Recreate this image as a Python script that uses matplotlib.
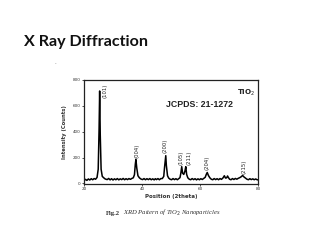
import matplotlib
matplotlib.use("Agg")
import matplotlib.pyplot as plt

# XRD pattern (2theta in degrees, intensity in counts)
two_theta = [20.0, 20.5, 21.0, 21.5, 22.0, 22.5, 23.0, 23.5, 24.0, 24.5,
             24.9, 25.2, 25.4, 25.6, 25.9, 26.3, 26.8, 27.3, 28.0, 28.5,
             29.0, 29.5, 30.0, 30.5, 31.0, 31.5, 32.0, 32.5, 33.0, 33.5,
             34.0, 34.5, 35.0, 35.5, 36.0, 36.5, 37.0, 37.4, 37.7, 37.9,
             38.2, 38.6, 39.1, 39.6, 40.2, 40.7, 41.2, 41.7, 42.2, 42.7,
             43.2, 43.7, 44.2, 44.6, 45.0, 45.5, 46.0, 46.5, 47.0, 47.5,
             47.8, 48.2, 48.4, 48.8, 49.2, 49.7, 50.2, 50.7, 51.2, 51.7,
             52.2, 52.7, 53.1, 53.4, 53.7, 54.0, 54.4, 54.8, 55.1, 55.4,
             55.8, 56.3, 56.8, 57.3, 57.8, 58.3, 58.8, 59.3, 59.8, 60.3,
             60.8, 61.3, 61.8, 62.2, 62.5, 62.9, 63.4, 63.9, 64.4, 64.9,
             65.4, 65.9, 66.4, 66.9, 67.4, 67.9, 68.4, 68.8, 69.2, 69.5,
             69.8, 70.2, 70.7, 71.2, 71.7, 72.2, 72.7, 73.2, 73.7, 74.2,
             74.7, 75.2, 75.7, 76.2, 76.7, 77.2, 77.7, 78.2, 78.7, 79.2,
             79.7, 80.0]
counts = [22, 32, 24, 35, 27, 37, 29, 38, 33, 47,
          110, 420, 715, 380, 110, 55, 44, 35, 30, 39,
          28, 37, 27, 36, 29, 38, 28, 36, 30, 39,
          29, 37, 30, 38, 32, 39, 44, 68, 150, 185,
          120, 60, 44, 35, 30, 38, 29, 37, 30, 38,
          29, 36, 28, 37, 30, 38, 29, 38, 38, 55,
          130, 215, 140, 60, 42, 33, 29, 38, 30, 37,
          29, 38, 45, 80, 130, 80, 70, 95, 130, 70,
          44, 33, 29, 38, 30, 37, 28, 36, 29, 37,
          31, 39, 48, 72, 85, 62, 44, 33, 29, 38,
          30, 37, 29, 38, 32, 42, 60, 42, 44, 58,
          46, 33, 29, 38, 31, 39, 33, 40, 45, 52,
          62, 50, 42, 33, 29, 37, 30, 36, 29, 35,
          29, 28]

# peak labels: text, 2theta, counts at bottom of text
hkl = ["(101)", "(004)", "(200)", "(105)", "(211)", "(204)", "(215)"]
hkl_x = [27.1, 38.2, 48.0, 53.4, 56.2, 62.4, 75.3]
hkl_y = [660, 200, 238, 146, 146, 108, 72]

x_ticks = [20, 40, 60, 80]
y_ticks = [0, 200, 400, 600, 800]

fig = plt.figure(figsize=(3.2, 2.4), dpi=100)
fig.patch.set_facecolor("white")

fig.text(0.076, 0.825, "X Ray Diffraction", fontsize=11.6, fontweight="bold",
         family="Lato", color="#111111", va="center", ha="left")
fig.text(0.17, 0.735, ".", fontsize=4, color="#555555")

ax = fig.add_axes([0.2625, 0.2333, 0.5437, 0.4334])
ax.plot(two_theta, counts, color="black", lw=1.1)
ax.set_xlim(20, 80)
ax.set_ylim(-4, 800)
ax.set_xticks(x_ticks)
ax.set_yticks(y_ticks)
ax.tick_params(labelsize=3, length=1.5, width=0.6, pad=1, colors="#333333")
for s in ax.spines.values():
    s.set_linewidth(0.9)
    s.set_color("#222222")

for t, xx, yy in zip(hkl, hkl_x, hkl_y):
    ax.text(xx, yy, t, rotation=90, fontsize=3.8, ha="center", va="bottom",
            family="DejaVu Sans", color="#222222")

ax.text(0.93, 0.88, "TiO$_2$", transform=ax.transAxes, fontsize=5.2,
        fontweight="bold", ha="center", va="center", color="#222222")
ax.text(0.665, 0.76, "JCPDS: 21-1272", transform=ax.transAxes, fontsize=6.3,
        fontweight="bold", ha="center", va="center", family="Liberation Sans",
        color="#222222")

ax.set_xlabel("Position (2theta)", fontsize=4, fontweight="bold", labelpad=2,
              color="#333333")
ax.set_ylabel("Intensity (Counts)", fontsize=3.8, fontweight="bold", labelpad=4,
              color="#333333")

fig.text(0.33, 0.112, "Fig.2", fontsize=4.8, fontweight="bold",
         family="Liberation Serif", color="#333333", va="center")
fig.text(0.383, 0.112, "XRD Pattern of TiO$_2$ Nanoparticles", fontsize=4.8,
         style="italic", family="Liberation Serif", color="#333333", va="center")

fig.savefig("out.png", dpi=100)
